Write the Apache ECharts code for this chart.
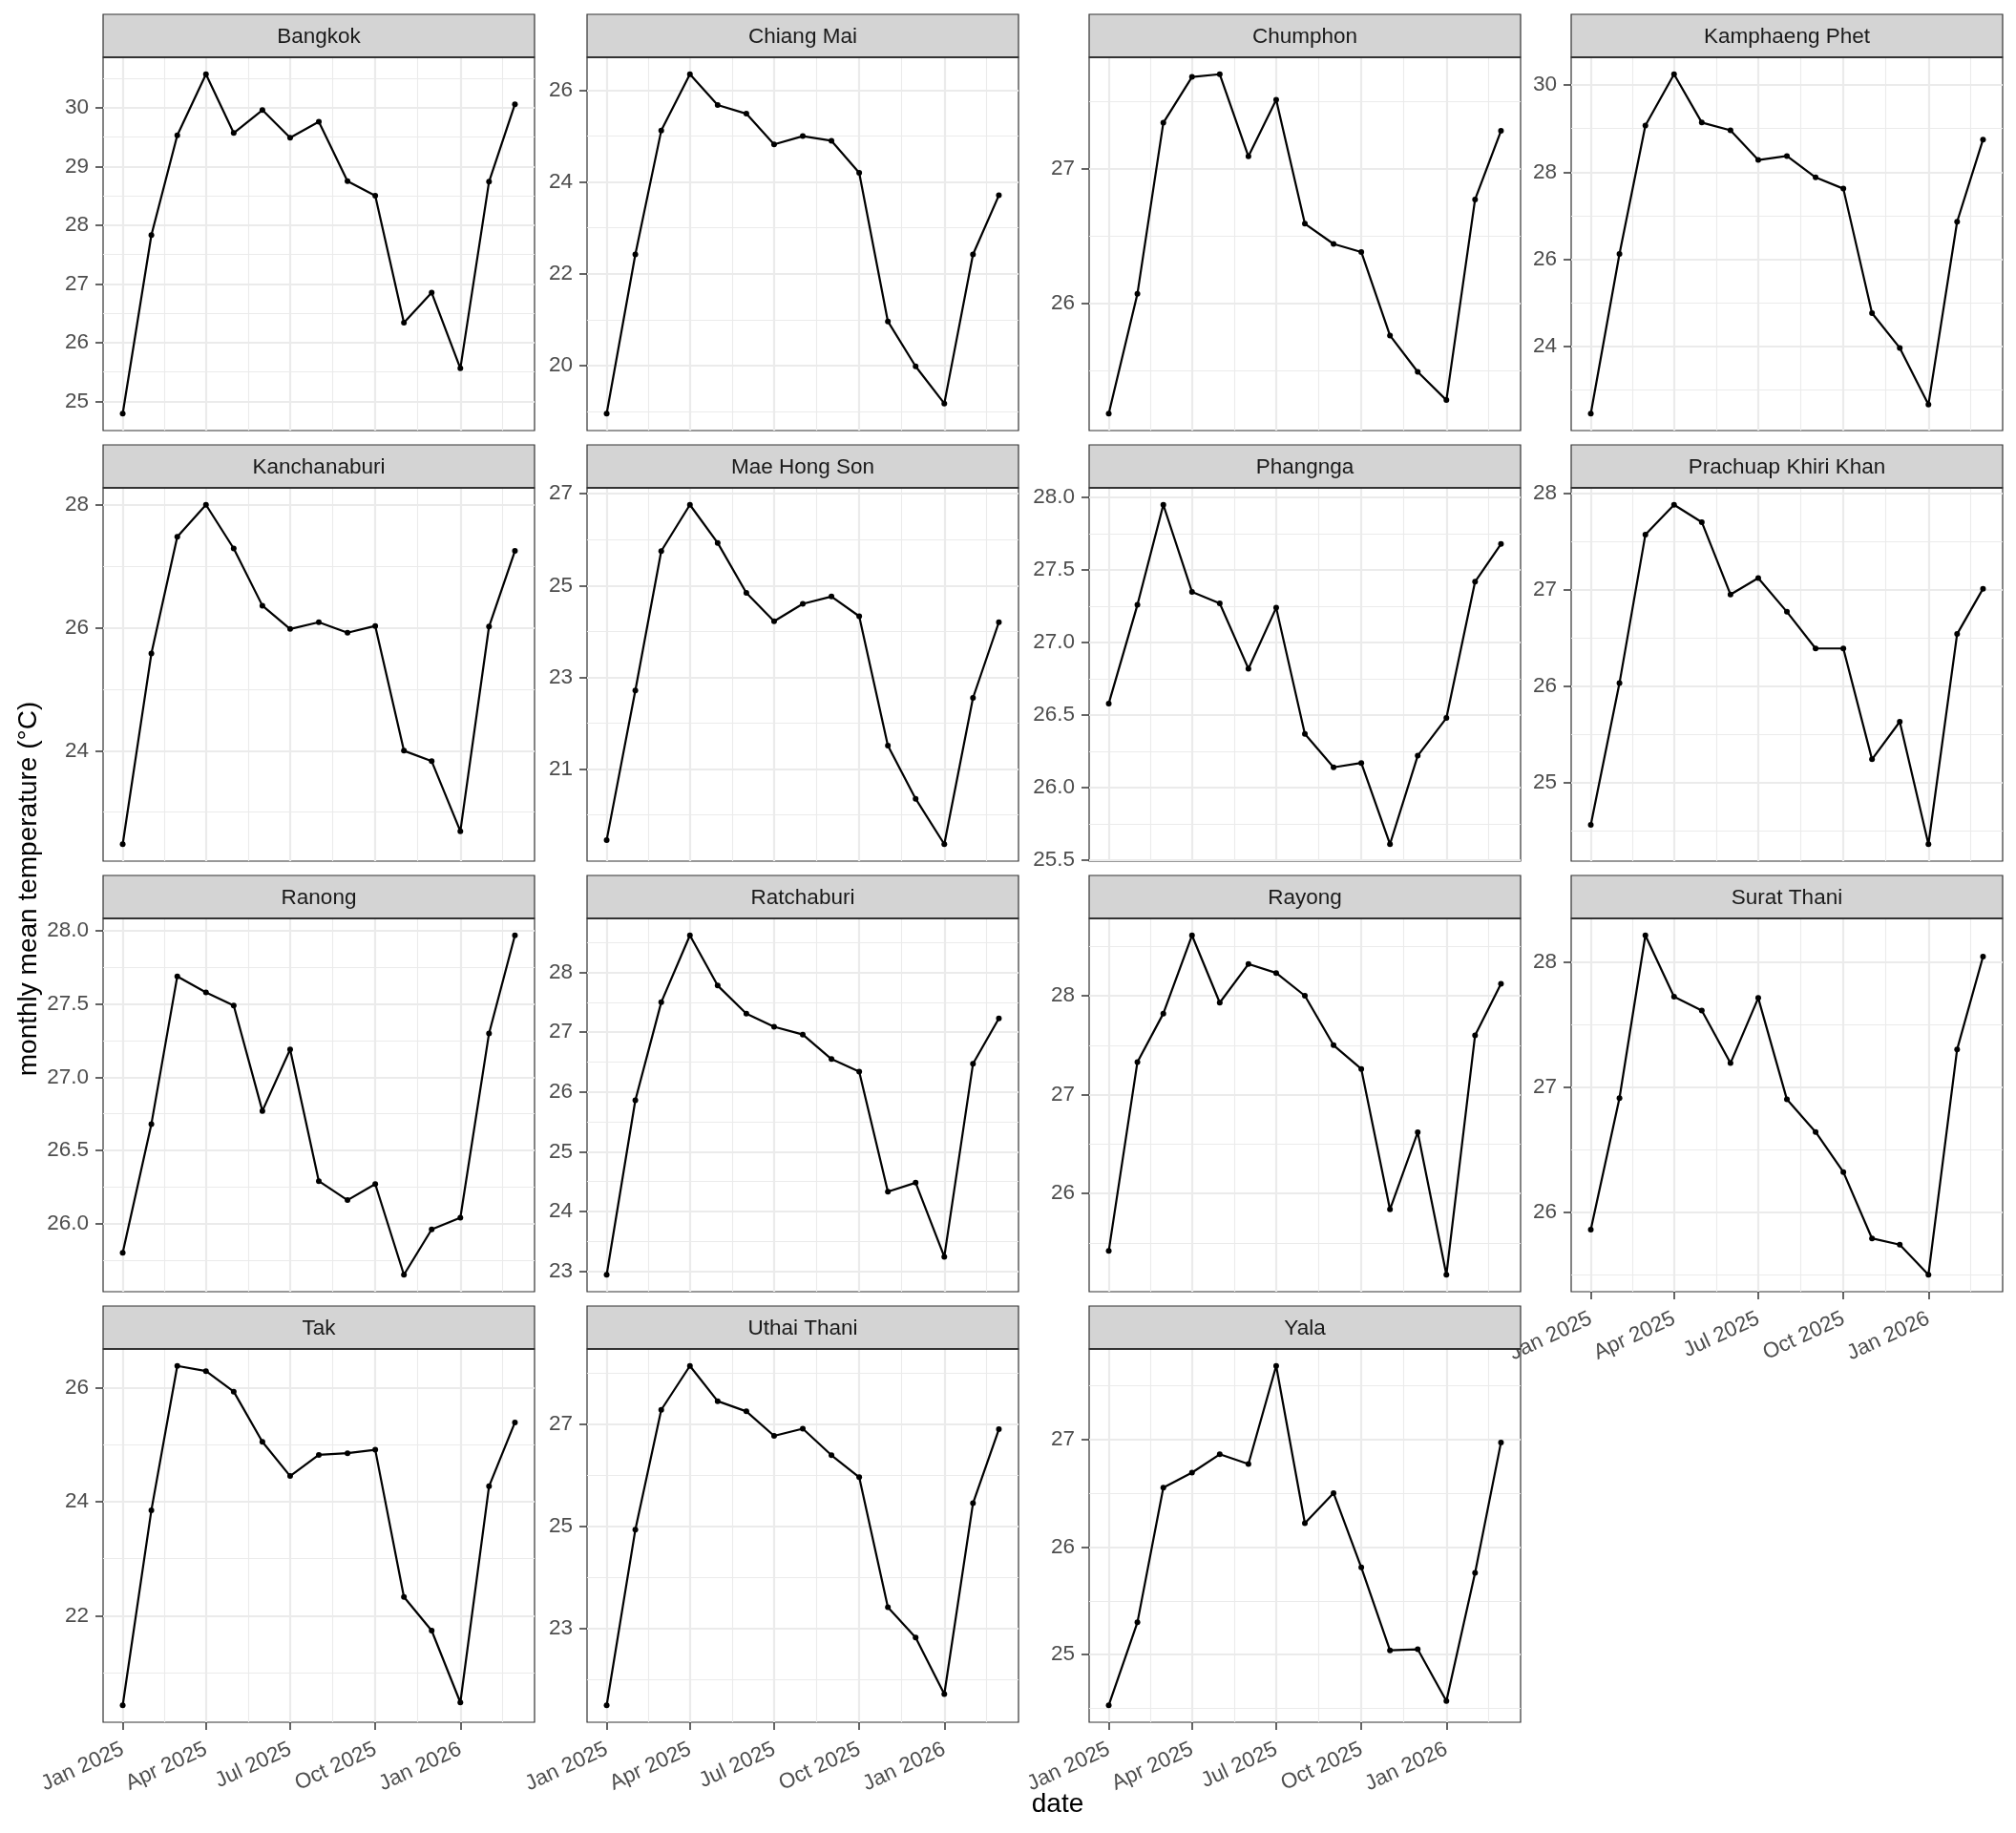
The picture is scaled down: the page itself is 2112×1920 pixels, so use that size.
<!DOCTYPE html>
<html><head><meta charset="utf-8">
<script src="https://cdn.jsdelivr.net/npm/echarts@6/dist/echarts.min.js"></script>
<style>html,body{margin:0;padding:0;background:#fff}#c{width:2112px;height:1920px}</style>
</head><body><div id="c"></div>
<script>
// ---------- data ----------
const months = ['2025-01-01','2025-02-01','2025-03-01','2025-04-01','2025-05-01','2025-06-01','2025-07-01',
  '2025-08-01','2025-09-01','2025-10-01','2025-11-01','2025-12-01','2026-01-01','2026-02-01','2026-03-01'];
const provinces = ['Bangkok','Chiang Mai','Chumphon','Kamphaeng Phet','Kanchanaburi','Mae Hong Son','Phangnga',
  'Prachuap Khiri Khan','Ranong','Ratchaburi','Rayong','Surat Thani','Tak','Uthai Thani','Yala'];

const bangkok      = [24.79,27.83,29.53,30.57,29.57,29.96,29.49,29.76,28.75,28.50,26.34,26.85,25.56,28.74,30.06];
const chiangMai    = [18.95,22.42,25.12,26.35,25.68,25.49,24.82,25.00,24.90,24.20,20.96,19.98,19.17,22.42,23.71];
const chumphon     = [25.18,26.07,27.34,27.68,27.70,27.09,27.51,26.59,26.44,26.38,25.76,25.49,25.28,26.77,27.28];
const kamphaengPhet= [22.45,26.12,29.07,30.25,29.14,28.96,28.28,28.37,27.88,27.62,24.76,23.96,22.66,26.86,28.75];
const kanchanaburi = [22.48,25.58,27.48,28.00,27.29,26.36,25.98,26.09,25.92,26.03,24.00,23.83,22.69,26.02,27.25];
const maeHongSon   = [19.45,22.71,25.75,26.76,25.93,24.84,24.22,24.60,24.76,24.33,21.51,20.35,19.36,22.55,24.20];
const phangnga     = [26.58,27.26,27.95,27.35,27.27,26.82,27.24,26.37,26.14,26.17,25.61,26.22,26.48,27.42,27.68];
const prachuap     = [24.56,26.03,27.57,27.88,27.70,26.95,27.12,26.77,26.39,26.39,25.24,25.63,24.36,26.54,27.01];
const ranong       = [25.80,26.68,27.69,27.58,27.49,26.77,27.19,26.29,26.16,26.27,25.65,25.96,26.04,27.30,27.97];
const ratchaburi   = [22.94,25.86,27.50,28.62,27.78,27.31,27.09,26.96,26.55,26.34,24.33,24.48,23.24,26.47,27.23];
const rayong       = [25.42,27.33,27.82,28.61,27.93,28.32,28.23,28.00,27.50,27.26,25.84,26.62,25.18,27.60,28.12];
const suratThani   = [25.86,26.91,28.21,27.72,27.61,27.19,27.71,26.90,26.64,26.32,25.79,25.74,25.50,27.30,28.04];
const tak          = [20.43,23.85,26.38,26.29,25.93,25.05,24.45,24.82,24.85,24.91,22.33,21.74,20.48,24.27,25.39];
const uthaiThani   = [21.49,24.93,27.28,28.14,27.45,27.25,26.77,26.91,26.39,25.96,23.41,22.82,21.71,25.45,26.90];
const yala         = [24.53,25.30,26.55,26.69,26.86,26.77,27.68,26.22,26.50,25.81,25.04,25.05,24.57,25.76,26.97];

const xBreaks      = ['2025-01-01','2025-04-01','2025-07-01','2025-10-01','2026-01-01'];
const xBreakLabels = ['Jan 2025','Apr 2025','Jul 2025','Oct 2025','Jan 2026'];
const xBreaksAll   = ['2024-10-01','2025-01-01','2025-04-01','2025-07-01','2025-10-01','2026-01-01','2026-04-01'];

const bangkokTicks       = [25,26,27,28,29,30];
const chiangMaiTicks     = [20,22,24,26];
const chumphonTicks      = [26,27];
const kamphaengPhetTicks = [24,26,28,30];
const kanchanaburiTicks  = [24,26,28];
const maeHongSonTicks    = [21,23,25,27];
const phangngaTicks      = [25.5,26.0,26.5,27.0,27.5,28.0];
const prachuapTicks      = [25,26,27,28];
const ranongTicks        = [26.0,26.5,27.0,27.5,28.0];
const ratchaburiTicks    = [23,24,25,26,27,28];
const rayongTicks        = [26,27,28];
const suratThaniTicks    = [26,27,28];
const takTicks           = [22,24,26];
const uthaiThaniTicks    = [23,25,27];
const yalaTicks          = [25,26,27];

const allValues = [bangkok,chiangMai,chumphon,kamphaengPhet,kanchanaburi,maeHongSon,phangnga,prachuap,
  ranong,ratchaburi,rayong,suratThani,tak,uthaiThani,yala];
const allTicks = [bangkokTicks,chiangMaiTicks,chumphonTicks,kamphaengPhetTicks,kanchanaburiTicks,maeHongSonTicks,
  phangngaTicks,prachuapTicks,ranongTicks,ratchaburiTicks,rayongTicks,suratThaniTicks,takTicks,uthaiThaniTicks,yalaTicks];

// ---------- layout ----------
const ts = s => Date.UTC(+s.slice(0,4), +s.slice(5,7)-1, +s.slice(8,10));
const colLeft = [108, 615, 1141, 1646];
const rowTop = [15, 466, 917, 1368];
const stripH = 45, panelW = 452, panelH = 391;
const xLabelPanels = [11, 12, 13, 14];
const FONT = 'Liberation Sans, Arial, sans-serif';

const t0 = ts(months[0]), t1 = ts(months[months.length-1]);
const xPad = (t1 - t0) * 0.05;
const xMin = t0 - xPad, xMax = t1 + xPad;
const xBreakTs = xBreaks.map(ts);
const xAllTs = xBreaksAll.map(ts);
const xMinor = [];
for (let i = 0; i < xAllTs.length-1; i++) {
  const m = (xAllTs[i] + xAllTs[i+1]) / 2;
  if (m > xMin && m < xMax) xMinor.push(m);
}

const grids = [], xAxes = [], yAxes = [], series = [], graphics = [];
const gridCol = '#EBEBEB', dark = '#333333';

provinces.forEach((name, i) => {
  const col = i % 4, row = Math.floor(i / 4);
  const left = colLeft[col], top = rowTop[row] + stripH;
  grids.push({left, top, width: panelW, height: panelH, show: true, borderColor: dark, borderWidth: 1.2,
    backgroundColor: '#fff', containLabel: false, outerBoundsMode: 'none'});
  const vals = allValues[i];
  const lo = Math.min(...vals), hi = Math.max(...vals);
  const pad = (hi - lo) * 0.05;
  const yMin = lo - pad, yMax = hi + pad;
  const ticks = allTicks[i];
  const dec = ticks.some(t => Math.abs(t - Math.round(t)) > 1e-9);
  const step = ticks[1] - ticks[0];
  const yMinor = [];
  for (let k = -1; k < ticks.length; k++) {
    const m = ticks[0] + (k + 0.5) * step;
    if (m > yMin && m < yMax) yMinor.push(m);
  }
  const showX = xLabelPanels.includes(i);
  xAxes.push({type: 'value', gridIndex: i, min: xMin, max: xMax, position: 'bottom',
    axisLine: {show: false},
    axisTick: {show: showX, length: 8, lineStyle: {color: dark, width: 1.5}, customValues: xBreakTs},
    axisLabel: {show: showX, customValues: xBreakTs, rotate: 25, margin: 27, fontSize: 22.5,
      fontFamily: FONT, color: '#4D4D4D',
      formatter: v => { const k = xBreakTs.indexOf(v); return k >= 0 ? xBreakLabels[k] : ''; }},
    splitLine: {show: true, lineStyle: {color: gridCol, width: 2.2}}});
  xAxes.push({type: 'value', gridIndex: i, min: xMin, max: xMax, position: 'top',
    axisLine: {show: false}, axisTick: {show: false, customValues: xMinor}, axisLabel: {show: false, customValues: xMinor},
    splitLine: {show: true, lineStyle: {color: gridCol, width: 1.1}}});
  yAxes.push({type: 'value', gridIndex: i, min: yMin, max: yMax, position: 'left',
    axisLine: {show: false},
    axisTick: {show: true, length: 8, lineStyle: {color: dark, width: 1.5}, customValues: ticks},
    axisLabel: {show: true, customValues: ticks, margin: 15, fontSize: 22.5,
      fontFamily: FONT, color: '#4D4D4D',
      formatter: v => dec ? v.toFixed(1) : String(Math.round(v))},
    splitLine: {show: true, lineStyle: {color: gridCol, width: 2.2}}});
  yAxes.push({type: 'value', gridIndex: i, min: yMin, max: yMax, position: 'right',
    axisLine: {show: false}, axisTick: {show: false, customValues: yMinor}, axisLabel: {show: false, customValues: yMinor},
    splitLine: {show: true, lineStyle: {color: gridCol, width: 1.1}}});
  series.push({type: 'line', name, xAxisIndex: 2*i, yAxisIndex: 2*i, z: 5,
    data: months.map((m, k) => [ts(m), vals[k]]),
    symbol: 'circle', symbolSize: 6, showSymbol: true,
    lineStyle: {color: '#000', width: 2.2}, itemStyle: {color: '#000'}, emphasis: {disabled: true}});
  graphics.push({type: 'rect', shape: {x: left, y: rowTop[row], width: panelW, height: stripH},
    style: {fill: '#D4D4D4', stroke: dark, lineWidth: 1.2}, z: 10});
  graphics.push({type: 'rect', shape: {x: left, y: top - 1, width: panelW, height: 2},
    style: {fill: dark}, z: 11});
  graphics.push({type: 'text', x: left + panelW/2, y: rowTop[row] + stripH/2 + 1, z: 12,
    style: {text: name, align: 'center', verticalAlign: 'middle', fontSize: 22.5,
      fontFamily: FONT, fill: '#1A1A1A'}});
});

graphics.push({type: 'text', x: 30, y: 931, rotation: Math.PI/2, z: 12,
  style: {text: 'monthly mean temperature (°C)', align: 'center', verticalAlign: 'middle', fontSize: 28,
    fontFamily: FONT, fill: '#000'}});
graphics.push({type: 'text', x: 1108, y: 1890, z: 12,
  style: {text: 'date', align: 'center', verticalAlign: 'middle', fontSize: 28,
    fontFamily: FONT, fill: '#000'}});

const chart = echarts.init(document.getElementById('c'), null, {renderer: 'canvas'});
chart.setOption({animation: false, backgroundColor: '#fff', grid: grids, xAxis: xAxes, yAxis: yAxes,
  series, graphic: graphics});
</script></body></html>
